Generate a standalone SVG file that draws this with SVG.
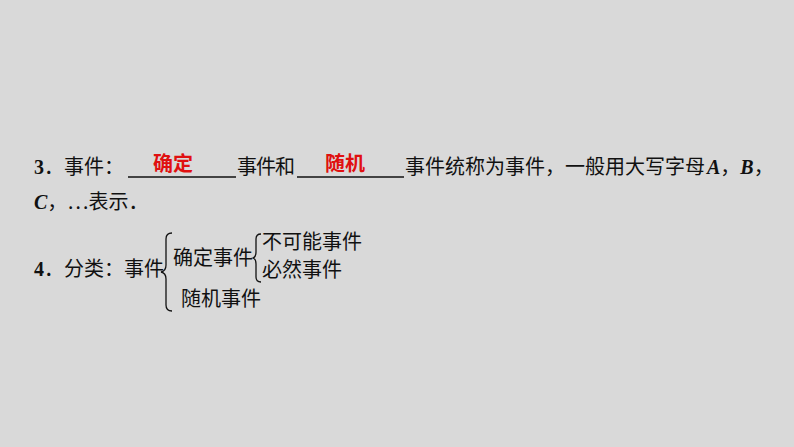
<svg xmlns="http://www.w3.org/2000/svg" width="794" height="447" viewBox="0 0 794 447">
<style>
.t{font-family:"Liberation Serif","Noto Sans CJK SC",serif;font-size:20px;fill:#111}
.b{font-weight:bold}
.i{font-style:italic;font-weight:bold}
.r{font-family:"Liberation Sans","Noto Sans CJK SC",sans-serif;font-size:20px;fill:#e01010;font-weight:bold}
.ln{stroke:#111;stroke-width:1.3;fill:none}
</style>
<rect width="794" height="447" fill="#d9d9d9"/>
<g id="line3">
<text class="t" x="34" y="174"><tspan class="b">3</tspan>．事件：</text>
<line class="ln" x1="128" y1="177" x2="236" y2="177"/>
<text class="r" x="173" y="171" text-anchor="middle">确定</text>
<text class="t" x="237" y="174" textLength="58">事件和</text>
<line class="ln" x1="297" y1="177" x2="404" y2="177"/>
<text class="r" x="345" y="171" text-anchor="middle">随机</text>
<text class="t" x="405" y="174" textLength="300">事件统称为事件，一般用大写字母</text>
<text class="t" x="707" y="174"><tspan class="i">A</tspan>，<tspan class="i">B</tspan>，</text>
<text class="t" x="34" y="209"><tspan class="i">C</tspan>，⋯表示．</text>
</g>
<g id="line4">
<text class="t" x="34" y="276"><tspan class="b">4</tspan>．分类：事件</text>
</g>
<g id="connectors">
<path class="ln" d="M172,233 Q166,233 166,239 L166,265 Q166,271 161,272 Q166,273 166,279 L166,305 Q166,311 172,311"/>
<path class="ln" d="M261,234 Q256,234 256,239 L256,252 Q256,257 253,258 Q256,259 256,264 L256,277 Q256,282 261,282"/>
</g>
<g id="n1"><text class="t" x="173" y="265">确定事件</text></g>
<g id="n2"><text class="t" x="262" y="249">不可能事件</text></g>
<g id="n3"><text class="t" x="262" y="277">必然事件</text></g>
<g id="n4"><text class="t" x="181" y="306">随机事件</text></g>
</svg>
